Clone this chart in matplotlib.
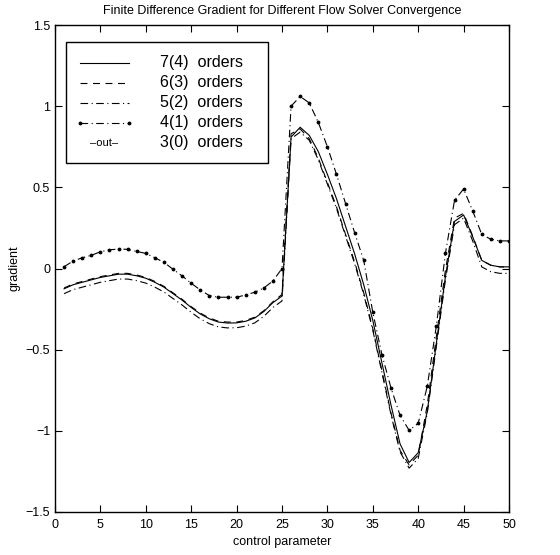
import numpy as np
import matplotlib
matplotlib.use("Agg")
import matplotlib.pyplot as plt
from matplotlib.patches import Rectangle

plt.rcParams['font.family'] = ['Liberation Sans', 'DejaVu Sans']
plt.rcParams['lines.scale_dashes'] = False

# control parameter index
x = np.arange(1, 51)

# gradient for each flow solver convergence level
grad_7 = [-0.125, -0.10, -0.085, -0.07, -0.055, -0.045, -0.035, -0.035, -0.045, -0.06,
          -0.085, -0.115, -0.155, -0.195, -0.24, -0.28, -0.31, -0.33, -0.336, -0.335,
          -0.325, -0.305, -0.265, -0.21, -0.17, 0.81, 0.87, 0.82, 0.72, 0.58,
          0.43, 0.26, 0.09, -0.10, -0.32, -0.58, -0.84, -1.08, -1.195, -1.135,
          -0.88, -0.46, -0.05, 0.29, 0.33, 0.195, 0.05, 0.02, 0.01, 0.01]
grad_6 = [-0.12, -0.095, -0.08, -0.065, -0.05, -0.04, -0.03, -0.03, -0.04, -0.055,
          -0.08, -0.11, -0.15, -0.19, -0.235, -0.275, -0.305, -0.325, -0.33, -0.33,
          -0.32, -0.30, -0.26, -0.205, -0.16, 0.83, 0.86, 0.80, 0.68, 0.53,
          0.38, 0.21, 0.04, -0.15, -0.37, -0.63, -0.89, -1.12, -1.21, -1.15,
          -0.84, -0.42, -0.01, 0.31, 0.34, 0.20, 0.05, 0.02, 0.01, 0.01]
grad_5 = [-0.155, -0.13, -0.115, -0.10, -0.085, -0.075, -0.065, -0.065, -0.075, -0.09,
          -0.115, -0.145, -0.185, -0.225, -0.27, -0.31, -0.34, -0.36, -0.366, -0.365,
          -0.355, -0.335, -0.295, -0.24, -0.20, 0.80, 0.84, 0.79, 0.67, 0.52,
          0.37, 0.20, 0.03, -0.16, -0.38, -0.64, -0.90, -1.13, -1.23, -1.17,
          -0.89, -0.48, -0.07, 0.27, 0.31, 0.17, 0.01, -0.02, -0.03, -0.03]
grad_4 = [0.011, 0.046, 0.066, 0.081, 0.103, 0.115, 0.12, 0.118, 0.105, 0.093,
          0.066, 0.038, -0.005, -0.046, -0.091, -0.132, -0.167, -0.177, -0.177, -0.177,
          -0.163, -0.146, -0.12, -0.077, 0.0, 1.00, 1.06, 1.02, 0.90, 0.75,
          0.58, 0.40, 0.22, 0.05, -0.27, -0.53, -0.735, -0.905, -0.997, -0.954,
          -0.725, -0.353, 0.095, 0.42, 0.49, 0.355, 0.21, 0.18, 0.17, 0.17]

labels = ['7(4)  orders', '6(3)  orders', '5(2)  orders', '4(1)  orders', '3(0)  orders']

fig = plt.figure(figsize=(5.6, 5.55), dpi=100)
ax = fig.add_axes([55/560, 1-512/555, 454/560, 487/555])

dash = (0, (5, 4))
dashdot = (0, (5.5, 2.5, 0.8, 2.5))
lw = 0.8
ax.plot(x, grad_7, color='k', lw=lw, ls='-')
ax.plot(x, grad_6, color='k', lw=lw, ls=dash)
ax.plot(x, grad_5, color='k', lw=lw, ls=dashdot)
ax.plot(x, grad_4, color='k', lw=lw, ls=dashdot, marker='.', ms=3.5)

ax.set_xlim(0, 50)
ax.set_ylim(-1.5, 1.5)
ax.set_xticks(np.arange(0, 51, 5))
ax.set_yticks([-1.5, -1, -0.5, 0, 0.5, 1, 1.5])
ax.set_yticklabels(['\u22121.5', '\u22121', '\u22120.5', '0', '0.5', '1', '1.5'])
ax.tick_params(direction='in', top=True, right=True, length=5, labelsize=9, width=0.8)
ax.tick_params(axis='x', pad=5)
for s in ax.spines.values():
    s.set_linewidth(1.0)

ax.set_title('Finite Difference Gradient for Different Flow Solver Convergence', fontsize=9, pad=8)
ax.set_xlabel('control parameter', fontsize=9, labelpad=4)
ax.set_ylabel('gradient', fontsize=9, labelpad=4)

# legend box drawn by hand (MATLAB style)
ax.add_patch(Rectangle((0.024, 0.717), 0.445, 0.248, transform=ax.transAxes,
                       fill=True, facecolor='white', edgecolor='k', lw=1.0, zorder=5))
rows = [0.922, 0.881, 0.840, 0.799, 0.758]
styles = ['-', dash, dashdot, dashdot]
for i, lab in enumerate(labels):
    y = rows[i]
    if i < 4:
        ax.plot([0.054, 0.163], [y, y], transform=ax.transAxes, color='k', lw=lw,
                ls=styles[i], zorder=6)
        if i == 3:
            ax.plot([0.054, 0.163], [y, y], transform=ax.transAxes, color='k', ls='none',
                    marker='.', ms=3.5, zorder=6)
    else:
        ax.text(0.108, y, '\u2013out\u2013', transform=ax.transAxes, fontsize=8,
                ha='center', va='center', zorder=6)
    ax.text(0.231, y, lab, transform=ax.transAxes, fontsize=11.5, ha='left',
            va='center', zorder=6)

fig.savefig('out.png', dpi=100)
